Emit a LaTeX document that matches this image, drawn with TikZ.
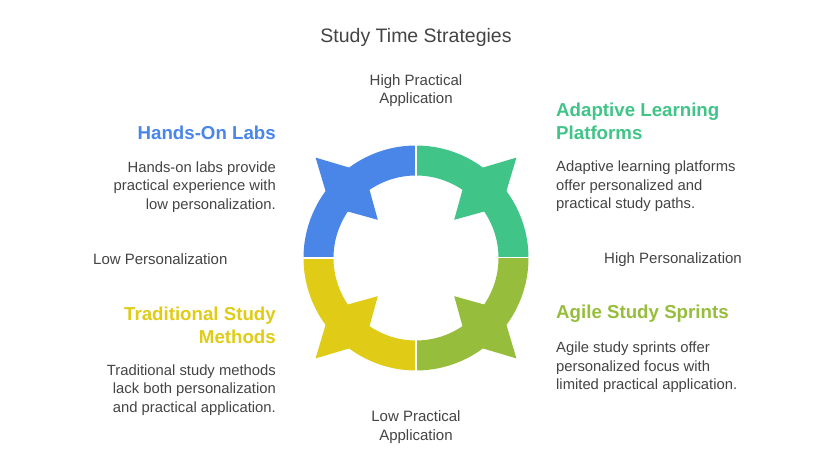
\documentclass[tikz,border=0pt]{standalone}
\usepackage{fontspec}
\setmainfont{Liberation Sans}
\usepackage{xcolor}
\usetikzlibrary{positioning}
\definecolor{ink}{RGB}{68,68,68}
\definecolor{labblue}{RGB}{74,134,232}
\definecolor{adagreen}{RGB}{64,196,136}
\definecolor{agilime}{RGB}{150,190,60}
\definecolor{tradyel}{RGB}{224,204,22}

\begin{document}
\begin{tikzpicture}[x=1pt,y=-1pt,
  heading/.style={font=\fontsize{18.7}{23}\selectfont\bfseries,inner sep=0pt},
  body/.style={font=\fontsize{14.8}{18.5}\selectfont,text=ink,inner sep=0pt},
  axis/.style={font=\fontsize{15}{18.5}\selectfont,text=ink,inner sep=0pt,align=center}
]
\useasboundingbox[fill=white] (0,0) rectangle (833,468);
% title
\node[font=\fontsize{19.5}{23}\selectfont,text=ink,inner sep=0pt] (title) at (416,37.5) {Study Time Strategies};
% ring of four quadrants, each with a spike at its middle
\begin{scope}[shift={(416,258)},yscale=-1]
  \foreach \a/\col in {0/adagreen,90/labblue,180/tradyel,270/agilime}{
    \fill[\col] (\a:82.5) -- (\a:112.5)
      arc[start angle=\a, end angle=\a+36.5, radius=112.5]
      -- (\a+45:142) -- (\a+53.5:112.5)
      arc[start angle=\a+53.5, end angle=\a+90, radius=112.5]
      -- (\a+90:82.5)
      arc[start angle=\a+90, end angle=\a+55.7, radius=82.5]
      -- (\a+45:54) -- (\a+34.3:82.5)
      arc[start angle=\a+34.3, end angle=\a, radius=82.5] -- cycle;
    % white seam between quadrants
    \draw[white,line width=2pt] (\a:80) -- (\a:115);
  }
\end{scope}
% axis labels
\node[axis] (highprac) at (416,90.5) {High Practical\\Application};
\node[axis] (lowprac) at (416,427) {Low Practical\\Application};
\node[axis,anchor=west] (lowpers) at (93,259.5) {Low Personalization};
\node[axis,anchor=east] (highpers) at (742,259.5) {High Personalization};
% hands-on labs
\node[heading,text=labblue,anchor=east] (labs) at (276,133) {Hands-On Labs};
\node[body,align=right,anchor=east] (labstext) at (276,187)
  {Hands-on labs provide\\practical experience with\\low personalization.};
% adaptive learning platforms
\node[heading,text=adagreen,anchor=west,align=left] (ada) at (556,121) {Adaptive Learning\\Platforms};
\node[body,align=left,anchor=west] (adatext) at (556,186.5)
  {Adaptive learning platforms\\offer personalized and\\practical study paths.};
% traditional study methods
\node[heading,text=tradyel,anchor=east,align=right] (trad) at (276,325) {Traditional Study\\Methods};
\node[body,align=right,anchor=east] (tradtext) at (276,390)
  {Traditional study methods\\lack both personalization\\and practical application.};
% agile study sprints
\node[heading,text=agilime,anchor=west] (agile) at (556,313.5) {Agile Study Sprints};
\node[body,align=left,anchor=west] (agiletext) at (556,367.5)
  {Agile study sprints offer\\personalized focus with\\limited practical application.};
\end{tikzpicture}
\end{document}
